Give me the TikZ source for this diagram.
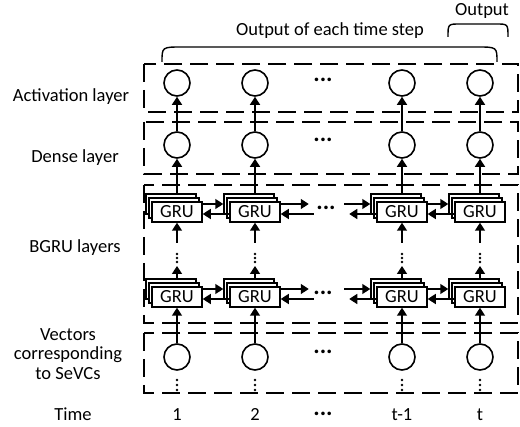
\documentclass[tikz,border=0pt]{standalone}
\usepackage{fontspec}
\setmainfont{Carlito}
\usetikzlibrary{arrows.meta}
\tikzset{
    layer-box/.style = {draw, line width=1.8pt, dash pattern=on 18pt off 8pt},
    unit-circle/.style = {draw, line width=1.6pt, circle, minimum size=26pt, inner sep=0pt},
    gru-box/.style = {draw, line width=1.5pt, fill=white, minimum width=50pt, minimum height=20pt, inner sep=0pt},
    flow/.style = {line width=1.6pt, -{Triangle[length=8pt,width=10pt]}},
    brace-line/.style = {line width=1.4pt},
    side-label/.style = {align=center, inner sep=1pt},
    time-label/.style = {anchor=base, inner sep=0pt},
    hdots/.style = {font=\fontsize{24}{24}\selectfont\bfseries, inner sep=0pt},
    dot/.style = {fill, circle, inner sep=0pt, minimum size=2.6pt},
}

\begin{document}
\begin{tikzpicture}[x=1pt, y=-1pt, font=\fontsize{18.5}{19.5}\selectfont]
\useasboundingbox (0,0) rectangle (520,427);

% layer frames
\draw[layer-box] (144,64) rectangle (518,112);
\draw[layer-box] (144,122) rectangle (518,174);
\draw[layer-box] (144,185) rectangle (518,323);
\draw[layer-box] (144,333) rectangle (518,393);

% layer names
\node[side-label] (lbl-act) at (71,97) {Activation layer};
\node[side-label] (lbl-den) at (75,158) {Dense layer};
\node[side-label] (lbl-gru) at (75,248) {BGRU layers};
\node[side-label] (lbl-vec) at (68,354) {Vectors\\corresponding\\to SeVCs};
\node[time-label] (lbl-time) at (73,421) {Time};

% one column per time step
\foreach \i/\x/\lab in {1/177/1, 2/255/2, 3/402/t-1, 4/480/t} {
    \node[unit-circle] (act\i) at (\x,83) {};
    \node[unit-circle] (den\i) at (\x,145) {};
    \node[gru-box] (gru-up-bb\i) at (\x-6,204) {};
    \node[gru-box] (gru-up-b\i) at (\x-3,208) {};
    \node[gru-box] (gru-up\i) at (\x,212) {GRU};
    \node[gru-box] (gru-lo-bb\i) at (\x-6,289) {};
    \node[gru-box] (gru-lo-b\i) at (\x-3,293) {};
    \node[gru-box] (gru-lo\i) at (\x,297) {GRU};
    \node[unit-circle] (vec\i) at (\x,357) {};
    \node[time-label] (time\i) at (\x,421) {\lab};
    \coordinate (gap-up\i) at (\x,243);
    \coordinate (gap-lo\i) at (\x,266);
    \node[dot] (vd-a\i) at (\x,254) {};
    \node[dot] (vd-b\i) at (\x,258) {};
    \node[dot] (vd-c\i) at (\x,262) {};
    \node[dot] (vv-a\i) at (\x,380) {};
    \node[dot] (vv-b\i) at (\x,385) {};
    \node[dot] (vv-c\i) at (\x,390) {};
    \draw[flow] (den\i) -- (act\i);
    \draw[flow] (den\i |- gru-up-bb\i.north) -- (den\i);
    \draw[flow] (gap-up\i) -- (gru-up\i);
    \draw[flow] (gap-lo\i |- gru-lo-bb\i.north) -- (gap-lo\i);
    \draw[flow] (vec\i) -- (gru-lo\i);
}

% recurrent links, both directions
\foreach \r in {up, lo} {
    \draw[flow] (gru-\r1.east |- gru-\r-bb1) -- (gru-\r-bb2);
    \draw[flow] ([yshift=-2pt]gru-\r2.west) -- ([yshift=-2pt]gru-\r1.east);
    \draw[flow] (gru-\r3.east |- gru-\r-bb3) -- (gru-\r-bb4);
    \draw[flow] ([yshift=-2pt]gru-\r4.west) -- ([yshift=-2pt]gru-\r3.east);
    \coordinate (cut-r2-\r) at ([xshift=28pt]gru-\r2.east |- gru-\r-bb2);
    \coordinate (cut-l2-\r) at ([xshift=33pt,yshift=-2pt]gru-\r2.east);
    \coordinate (cut-r3-\r) at ([xshift=-26pt]gru-\r-bb3.west);
    \coordinate (cut-l3-\r) at ([xshift=-27pt,yshift=-2pt]gru-\r3.west);
    \draw[flow] (gru-\r2.east |- gru-\r-bb2) -- (cut-r2-\r);
    \draw[flow] (cut-l2-\r) -- ([yshift=-2pt]gru-\r2.east);
    \draw[flow] (cut-r3-\r) -- (gru-\r-bb3);
    \draw[flow] ([yshift=-2pt]gru-\r3.west) -- (cut-l3-\r);
}

% horizontal ellipses
\node[hdots] (hd-act) at (323,80) {...};
\node[hdots] (hd-den) at (323,140) {...};
\node[hdots] (hd-up) at (326,208) {...};
\node[hdots] (hd-lo) at (323,293) {...};
\node[hdots] (hd-vec) at (323,352) {...};
\node[hdots] (hd-time) at (323,414) {...};

% output braces
\draw[brace-line] (162,62) .. controls (162,47) .. (182,47) -- (477,47) .. controls (497,47) .. (497,62);
\draw[brace-line] (448,37) .. controls (448,24) .. (460,24) -- (496,24) .. controls (508,24) .. (508,37);
\node (out-all) at (330,31) {Output of each time step};
\node (out-last) at (482,11) {Output};
\end{tikzpicture}
\end{document}
